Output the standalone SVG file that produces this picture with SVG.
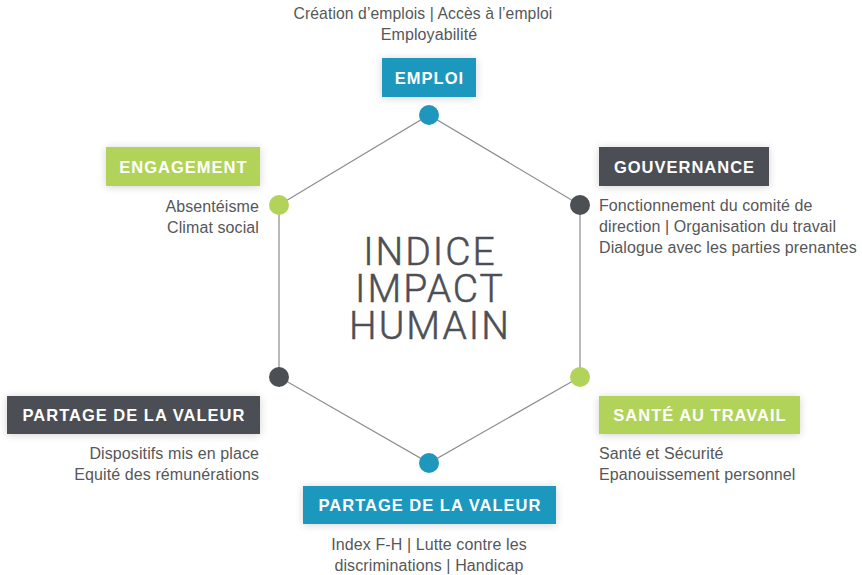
<svg xmlns="http://www.w3.org/2000/svg" width="862" height="575" viewBox="0 0 862 575">
<defs>
<filter id="sh" x="-20%" y="-40%" width="140%" height="180%">
<feGaussianBlur in="SourceAlpha" stdDeviation="4"/>
<feOffset dx="0" dy="1"/>
<feComponentTransfer><feFuncA type="linear" slope="0.18"/></feComponentTransfer>
<feMerge><feMergeNode/><feMergeNode in="SourceGraphic"/></feMerge>
</filter>
</defs>
<style>
.blue{fill:#1f97bd}
.green{fill:#b1d35a}
.dark{fill:#4c4f54}
.lbl{font-family:"Liberation Sans",Arial,sans-serif;font-weight:bold;font-size:16.5px;letter-spacing:1px;fill:#ffffff;text-anchor:middle}
.txt{font-family:"Liberation Sans",Arial,sans-serif;font-size:16px;letter-spacing:0.1px;fill:#555759}
.edge{stroke:#8a8a8a;stroke-width:1.2;fill:none}
.title{font-family:Roboto,"Liberation Sans",sans-serif;font-weight:300;font-size:39px;letter-spacing:2px;fill:#4c4f54;stroke:#4c4f54;stroke-width:0.5;text-anchor:middle}
</style>
<rect width="862" height="575" fill="#ffffff"/>
<g id="connectors">
<polygon class="edge" points="429,115 580,205 580,377 429,463 279,377 279,205"/>
</g>
<g id="center">
<text class="title"><tspan x="430" y="265">INDICE</tspan><tspan x="430" y="302">IMPACT</tspan><tspan x="430" y="339">HUMAIN</tspan></text>
</g>
<g id="emploi">
<circle class="blue" cx="429" cy="115" r="10"/>
<rect class="blue" x="382" y="58" width="94" height="39" filter="url(#sh)"/>
<text class="lbl" x="429.5" y="83.5">EMPLOI</text>
<text class="txt" x="423" y="19" text-anchor="middle" style="font-size:15.7px">Création d’emplois | Accès à l’emploi</text>
<text class="txt" x="429" y="40" text-anchor="middle">Employabilité</text>
</g>
<g id="gouvernance">
<circle class="dark" cx="580" cy="205" r="10"/>
<rect class="dark" x="599" y="147" width="170" height="39" filter="url(#sh)"/>
<text class="lbl" x="684.5" y="172.5">GOUVERNANCE</text>
<text class="txt" x="599" y="211">Fonctionnement du comité de</text>
<text class="txt" x="599" y="232">direction | Organisation du travail</text>
<text class="txt" x="599" y="253">Dialogue avec les parties prenantes</text>
</g>
<g id="sante">
<circle class="green" cx="580" cy="377" r="10"/>
<rect class="green" x="599" y="396" width="201" height="38" filter="url(#sh)"/>
<text class="lbl" x="700" y="421">SANTÉ AU TRAVAIL</text>
<text class="txt" x="599" y="459">Santé et Sécurité</text>
<text class="txt" x="599" y="480">Epanouissement personnel</text>
</g>
<g id="partage-bas">
<circle class="blue" cx="429" cy="463" r="10"/>
<rect class="blue" x="303" y="486" width="253" height="38" filter="url(#sh)"/>
<text class="lbl" x="430" y="511">PARTAGE DE LA VALEUR</text>
<text class="txt" x="429" y="550" text-anchor="middle">Index F-H | Lutte contre les</text>
<text class="txt" x="429" y="571" text-anchor="middle">discriminations | Handicap</text>
</g>
<g id="partage-gauche">
<circle class="dark" cx="279" cy="377" r="10"/>
<rect class="dark" x="7" y="396" width="253" height="38" filter="url(#sh)"/>
<text class="lbl" x="134" y="421">PARTAGE DE LA VALEUR</text>
<text class="txt" x="259" y="459" text-anchor="end">Dispositifs mis en place</text>
<text class="txt" x="259" y="480" text-anchor="end">Equité des rémunérations</text>
</g>
<g id="engagement">
<circle class="green" cx="279" cy="205" r="10"/>
<rect class="green" x="106" y="147" width="154" height="39" filter="url(#sh)"/>
<text class="lbl" x="183.5" y="172.5">ENGAGEMENT</text>
<text class="txt" x="259" y="212" text-anchor="end">Absentéisme</text>
<text class="txt" x="259" y="233" text-anchor="end">Climat social</text>
</g>
</svg>
